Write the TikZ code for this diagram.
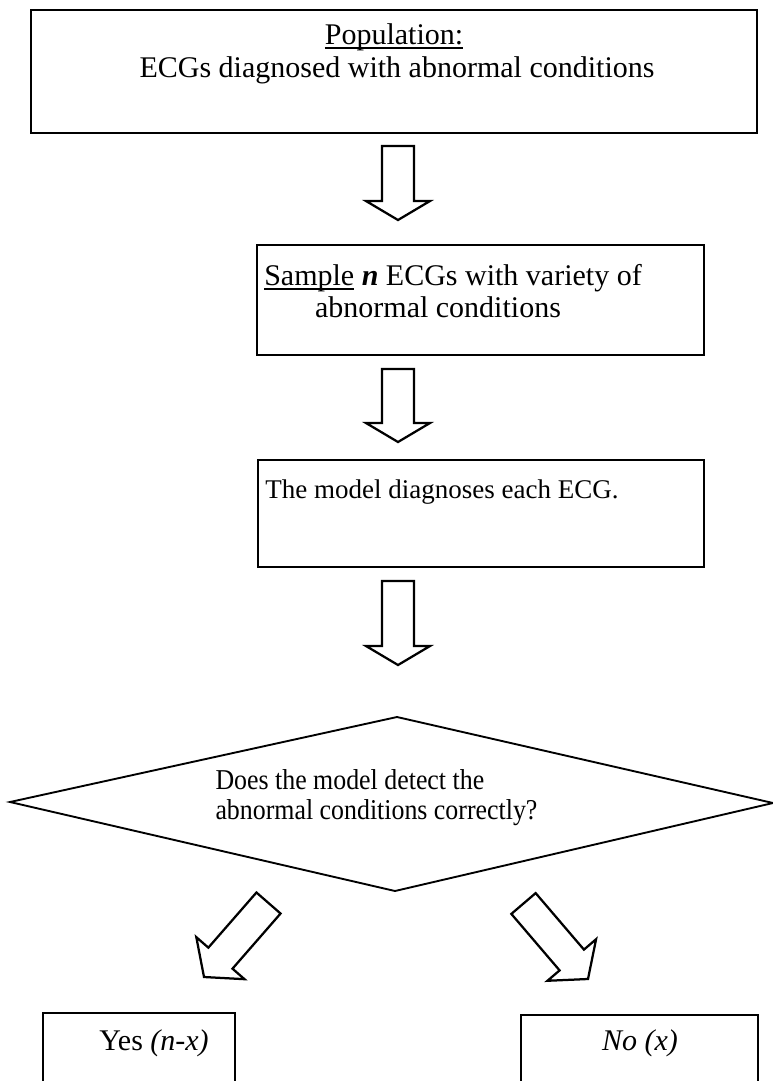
\documentclass[tikz,border=0pt]{standalone}
\usepackage{fontspec}
\setmainfont{Liberation Serif}
\newfontfamily\narrowserif[FakeStretch=0.9]{Liberation Serif}
\usetikzlibrary{calc,fit}

% underline set close to the baseline
\newcommand\ulword[1]{\setbox0\hbox{#1}\rlap{\rule[-1.6pt]{\wd0}{0.5pt}}\box0\relax}

% hollow block arrow from tail centre #2 to tip #3, head length #1
\newcommand\blockarrow[3][7.6pt]{%
  \coordinate (ba-h) at ($(#3)!#1!(#2)$);
  \draw[blockarrowline]
    ($(#2)!6.4pt!90:(#3)$) -- ($(ba-h)!6.4pt!-90:(#2)$) --
    ($(ba-h)!12.8pt!-90:(#2)$) -- (#3) --
    ($(ba-h)!12.8pt!90:(#2)$) -- ($(ba-h)!6.4pt!90:(#2)$) --
    ($(#2)!6.4pt!-90:(#3)$) -- cycle;}

\begin{document}
\begin{tikzpicture}[x=0.4pt,y=-0.4pt,
  box/.style={draw, line width=0.75pt, inner sep=0pt},
  line/.style={font=\fontsize{12}{14}\selectfont, inner sep=0pt,
    text height=8.5pt, text depth=2.5pt},
  qline/.style={font=\narrowserif\fontsize{11.5}{13}\selectfont, inner sep=0pt,
    text height=8pt, text depth=2.5pt, anchor=west},
  blockarrowline/.style={draw, line width=0.9pt, line join=miter, fill=white}]
\useasboundingbox (0,0) rectangle (773,1081);
\clip (0,0) rectangle (773,1081);

% corners of the rectangular steps
\coordinate (p1) at (31,10);   \coordinate (p2) at (757,133);
\coordinate (s1) at (257,245); \coordinate (s2) at (704,355);
\coordinate (m1) at (258,460); \coordinate (m2) at (704,567);
\coordinate (y1) at (43,1013); \coordinate (y2) at (235,1100);
\coordinate (n1) at (521,1015);\coordinate (n2) at (758,1100);

\node[box, fit=(p1)(p2)] (pop) {};
\node[box, fit=(s1)(s2)] (sample) {};
\node[box, fit=(m1)(m2)] (model) {};
\node[box, fit=(y1)(y2)] (yes) {};
\node[box, fit=(n1)(n2)] (no) {};

% decision diamond
\coordinate (dl) at (10,802);
\coordinate (dt) at (397,717);
\coordinate (dr) at (773,803);
\coordinate (db) at (395,891);
\draw[line width=0.75pt, line join=miter] (dl) -- (dt) -- (dr) -- (db) -- cycle;

% texts
\node[line] (pop-a) at (394,37) {\ulword{Population:}};
\node[line] (pop-b) at (397,70) {ECGs diagnosed with abnormal conditions};
\node[line] (sample-a) at (453,278) {\ulword{Sample} \textbf{\textit{n}} ECGs with variety of};
\node[line] (sample-b) at (438,310) {abnormal conditions};
\node[line, font=\fontsize{10.8}{13}\selectfont] (model-a) at (442,491) {The model diagnoses each ECG.};
\node[qline] (q-a) at (215,783) {Does the model detect the};
\node[qline] (q-b) at (215,813) {abnormal conditions correctly?};
\node[line] (yes-a) at (154,1043) {Yes \textit{(n-x)}};
\node[line] (no-a) at (640,1043) {\textit{No (x)}};

% block arrows between the steps
\coordinate (a1s) at (398,146); \coordinate (a1e) at (398,220);
\coordinate (a2s) at (398,369); \coordinate (a2e) at (398,442);
\coordinate (a3s) at (398,581); \coordinate (a3e) at (398,665);
\coordinate (a4s) at (268.5,903); \coordinate (a4e) at (204,977);
\coordinate (a5s) at (523.5,903.5); \coordinate (a5e) at (588,979);
\blockarrow{a1s}{a1e}
\blockarrow{a2s}{a2e}
\blockarrow{a3s}{a3e}
\blockarrow[10pt]{a4s}{a4e}
\blockarrow[10pt]{a5s}{a5e}
\end{tikzpicture}
\end{document}
